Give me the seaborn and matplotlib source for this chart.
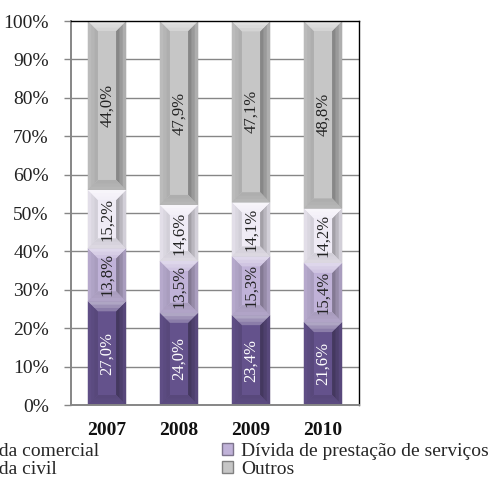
import numpy as np
import pandas as pd
import matplotlib
matplotlib.use("Agg")
import matplotlib.pyplot as plt
from matplotlib.patches import Polygon, Patch
from matplotlib.colors import to_rgb
import seaborn as sns

years = ["2007", "2008", "2009", "2010"]
series = ["Dívida comercial", "Dívida de prestação de serviços", "Dívida civil", "Outros"]
comercial = [27.0, 24.0, 23.4, 21.6]
prestacao = [13.8, 13.5, 15.3, 15.4]
civil = [15.2, 14.6, 14.1, 14.2]
outros = [44.0, 47.9, 47.1, 48.8]
colors = ["#64528c", "#c0b2d8", "#efebf5", "#c6c6c6"]
label_colors = ["white", "#222222", "#222222", "#222222"]
yticks = [0, 10, 20, 30, 40, 50, 60, 70, 80, 90, 100]

values = [comercial, prestacao, civil, outros]

sns.set_theme(style="white")
plt.rcParams["font.family"] = ["Liberation Serif", "DejaVu Serif"]

fig = plt.figure(figsize=(4.91, 4.80), dpi=100)
ax = fig.add_axes([71 / 491, 1 - 405 / 480, 288 / 491, 384 / 480])

grid_c = "#868686"
for t in yticks[1:-1]:
    ax.axhline(t, color=grid_c, lw=1.0, zorder=0)

# stacked bars: cumulative totals drawn from the top series down
cum = np.cumsum(np.array(values), axis=0)
bar_w = 0.53
for i in range(len(series) - 1, -1, -1):
    tmp = pd.DataFrame({"ano": years, "v": cum[i]})
    sns.barplot(data=tmp, x="ano", y="v", color=colors[i], width=bar_w,
                saturation=1, linewidth=0, ax=ax, zorder=2)

ax.set_xlim(-0.5, 3.5)
ax.set_ylim(0, 100)

px_x = 1.0 / (288 / 4.0)     # data units per pixel along x
px_y = 100.0 / 384           # data units per pixel along y


def shade(c, f):
    r = np.array(to_rgb(c))
    if f >= 0:
        return tuple(r + (1 - r) * f)
    return tuple(r * (1 + f))


def add_poly(pts, col):
    ax.add_patch(Polygon(pts, closed=True, facecolor=col, edgecolor="none", zorder=3))


# bevel shading on every segment
for i in range(len(series)):
    for j in range(len(years)):
        top = cum[i][j]
        bot = top - values[i][j]
        x0 = j - bar_w / 2
        x1 = j + bar_w / 2
        base = colors[i]
        steps = 3
        depth_px = 10
        for s in range(steps, 0, -1):
            frac = s / steps
            dx = depth_px * frac * px_x
            dy = min(depth_px * frac * px_y, (top - bot) / 2)
            dxx = min(dx, dy / px_y * px_x)
            add_poly([(x0, bot), (x0, top), (x0 + dxx, top - dy), (x0 + dxx, bot + dy)],
                     shade(base, -0.10 * frac - 0.02))
            add_poly([(x1, bot), (x1, top), (x1 - dxx, top - dy), (x1 - dxx, bot + dy)],
                     shade(base, -0.30 * frac - 0.02))
            add_poly([(x0, top), (x1, top), (x1 - dxx, top - dy), (x0 + dxx, top - dy)],
                     shade(base, 0.25 + 0.35 * (1 - frac)))
            add_poly([(x0, bot), (x1, bot), (x1 - dxx, bot + dy), (x0 + dxx, bot + dy)],
                     shade(base, -0.06 - 0.06 * frac))
        ax.text(j, (top + bot) / 2, f"{values[i][j]:.1f}%".replace(".", ","),
                rotation=90, ha="center", va="center", fontsize=12,
                color=label_colors[i], zorder=4)

# axes styling
ax.set_xlabel("")
ax.set_ylabel("")
ax.set_yticks(yticks)
ax.set_yticklabels([f"{t}%" for t in yticks], fontsize=14, color="#222222")
ax.set_xticks(range(len(years)))
ax.set_xticklabels(years, fontsize=14, fontweight="bold", color="#111111")
ax.set_xticks(np.arange(-0.5, 4.0, 1.0), minor=True)
ax.tick_params(axis="x", which="major", length=0, pad=12)
ax.tick_params(axis="x", which="minor", length=5, color=grid_c, width=1, direction="out")
ax.tick_params(axis="y", length=5, color=grid_c, width=1, direction="out", pad=11, left=True)
for s in ["left", "bottom"]:
    ax.spines[s].set_color(grid_c)
    ax.spines[s].set_linewidth(1.4)
for s in ["top", "right"]:
    ax.spines[s].set_color("black")
    ax.spines[s].set_linewidth(1.0)
for s in ax.spines.values():
    s.set_visible(True)
    s.set_zorder(5)

handles = [Patch(facecolor=c, edgecolor=shade(c, -0.35), linewidth=1.0) for c in colors]
leg_kw = dict(loc="upper left", frameon=False, fontsize=14, handlelength=0.55,
              handleheight=0.55, handletextpad=0.45, labelspacing=0.05,
              borderaxespad=0, borderpad=0)
fig.legend([handles[0], handles[2]], [series[0], series[2]],
           bbox_to_anchor=(-55 / 491, 1 - 443 / 480), **leg_kw)
fig.legend([handles[1], handles[3]], [series[1], series[3]],
           bbox_to_anchor=(222 / 491, 1 - 443 / 480), **leg_kw)

fig.text(-0.02, 1 + 8 / 480, "Dívida por natureza jurídica e ano, 2007-2010",
         fontsize=14, va="baseline", ha="left", color="#222222")

fig.savefig("out.png", dpi=100)
